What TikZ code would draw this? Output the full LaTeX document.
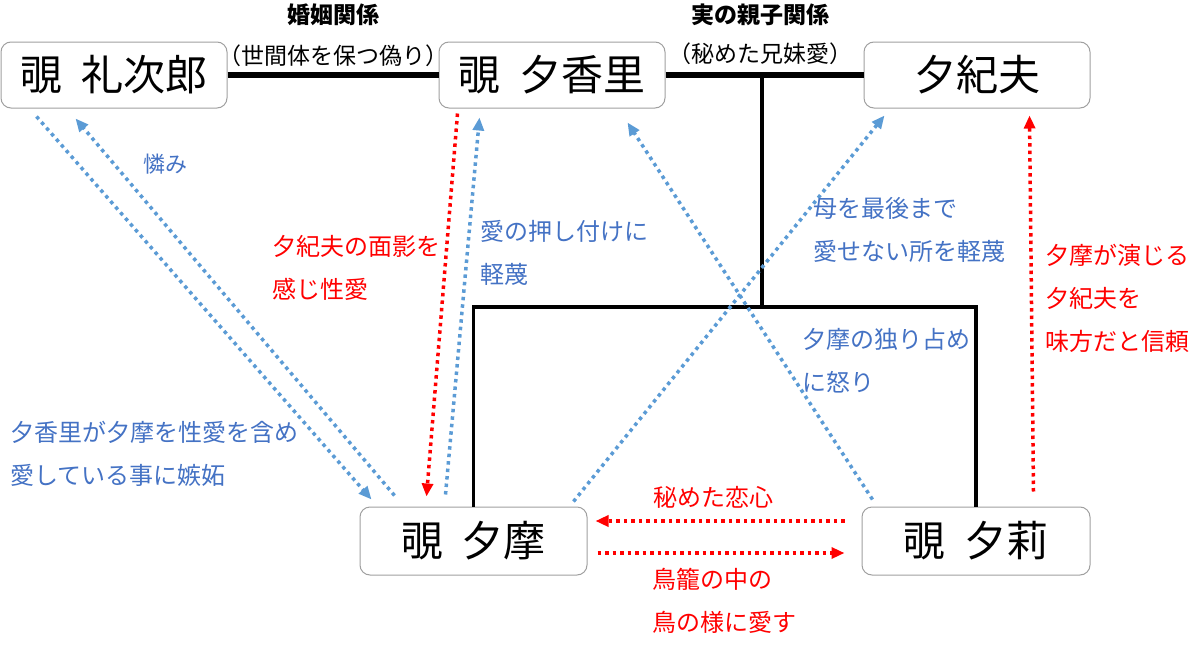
\documentclass[tikz,border=0pt]{standalone}
\usepackage{fontspec}
\newfontfamily\jp{Noto Sans CJK JP}
\usetikzlibrary{arrows.meta}
\definecolor{lblue}{HTML}{5B9BD5}
\definecolor{tblue}{HTML}{4472C4}
\definecolor{bgray}{HTML}{A0A0A0}
\newcommand{\gap}{\hspace{0.45em}}
\begin{document}
\begin{tikzpicture}[x=1pt,y=-1pt, font=\jp,
 person/.style={draw=bgray, line width=1pt, rounded corners=10pt, fill=white, minimum width=226pt, minimum height=66pt, inner sep=0pt, font=\jp\fontsize{42}{48}\selectfont},
 dotb/.style={draw=lblue, line width=3.5pt, dash pattern=on 3.5pt off 4pt, -{Triangle[length=13pt,width=11pt]}},
 dotr/.style={dotb, draw=red},
 lab/.style={inner sep=0pt, align=left, anchor=west, font=\jp\fontsize{24}{43}\selectfont},
 labb/.style={lab, text=tblue},
 labr/.style={lab, text=red},
 head/.style={inner sep=0pt, font=\jp\bfseries\fontsize{23}{26}\selectfont},
 sub/.style={inner sep=0pt, font=\jp\fontsize{23}{26}\selectfont},
 tie/.style={line width=6pt},
 fam/.style={line width=3.5pt}]
\useasboundingbox (0,0) rectangle (1200,645);

\node[person] (reji) at (114,75) {覗\gap 礼次郎};
\node[person] (yuka) at (552,75) {覗\gap 夕香里};
\node[person] (yuki) at (977,75) {夕紀夫};
\node[person, minimum height=68pt, minimum width=227pt] (yuma) at (473.5,541) {覗\gap 夕摩};
\node[person, minimum height=68pt, minimum width=228pt] (yuri) at (976,541) {覗\gap 夕莉};

\draw[tie] (reji.east) -- (yuka.west);
\draw[tie] (yuka.east) -- (yuki.west);
\coordinate (jn) at (762,307);
\draw[fam] (jn |- yuka.east) -- (jn);
\draw[fam] (yuma.north) |- (jn) -| (yuri.north);

\node[head] (t1) at (333,15) {婚姻関係};
\node[head] (t2) at (760,15) {実の親子関係};
\node[sub] (s1) at (333,56) {（世間体を保つ偽り）};
\node[sub] (s2) at (760,54) {（秘めた兄妹愛）};

\draw[dotb] ([shift={(36,8)}]reji.south west) -- ([shift={(12,-7)}]yuma.north west);
\draw[dotb] ([shift={(35,-11)}]yuma.north west) -- ([shift={(75,10)}]reji.south west);
\draw[dotr] ([shift={(19,5)}]yuka.south west) -- ([shift={(67,-10)}]yuma.north west);
\draw[dotb] ([shift={(86,-12)}]yuma.north west) -- ([shift={(41,9)}]yuka.south west);
\draw[dotb] ([shift={(11,-7)}]yuri.north west) -- ([shift={(-38,14)}]yuka.south east);
\draw[dotb] ([shift={(-14,-5)}]yuma.north east) -- ([shift={(21,7)}]yuki.south west);
\draw[dotr] ([shift={(-57,-15)}]yuri.north east) -- ([shift={(-61,7)}]yuki.south east);
\draw[dotr] ([shift={(-17,-20)}]yuri.west) -- ([shift={(8,-20)}]yuma.east);
\draw[dotr] ([shift={(10,12)}]yuma.east) -- ([shift={(-17,12)}]yuri.west);

\node[labb, font=\jp\fontsize{22}{30}\selectfont] (l1) at (143,164) {憐み};
\node[labr] (l2) at (272,268) {夕紀夫の面影を\\感じ性愛};
\node[labb] (l3) at (480,253) {愛の押し付けに\\軽蔑};
\node[labb] (l4) at (813,230) {母を最後まで\\愛せない所を軽蔑};
\node[labb] (l5) at (802,361) {夕摩の独り占め\\に怒り};
\node[labr] (l6) at (1045,298) {夕摩が演じる\\夕紀夫を\\味方だと信頼};
\node[labb] (l7) at (10,454) {夕香里が夕摩を性愛を含め\\愛している事に嫉妬};
\node[labr, anchor=center] (l8) at (713,497) {秘めた恋心};
\node[labr] (l9) at (652,601) {鳥籠の中の\\鳥の様に愛す};
\end{tikzpicture}
\end{document}
